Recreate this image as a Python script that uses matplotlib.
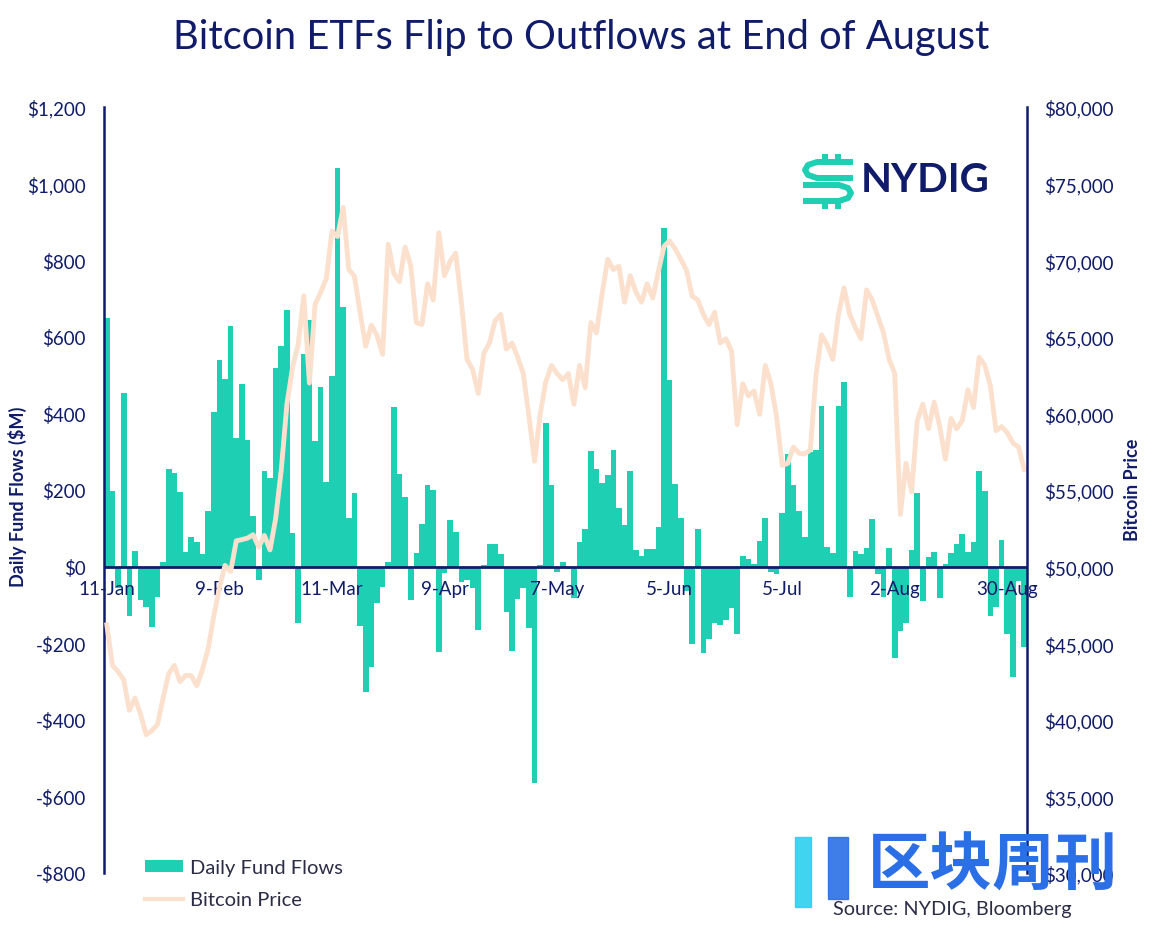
import matplotlib.pyplot as plt
from matplotlib.patches import Patch, Rectangle
from matplotlib.lines import Line2D
import numpy as np

# daily net flows, $M (one value per trading day, 11-Jan .. early Sep)
flows = [650, 198, -55, 453, -128, 40, -87, -105, -159, -79,
         12, 254, 245, 195, 37, 76, 65, 33, 145, 403,
         539, 491, 629, 337, 476, 330, 133, -36, 250, 232,
         518, 575, 671, 87, -146, 556, 645, 327, 468, 220,
         498, 1040, 679, 128, 193, -154, -327, -263, -95, -52,
         13, 416, 242, 183, -87, 36, 111, 212, 200, -224,
         -18, 121, 91, -41, -36, -57, -165, 3, 60, 60,
         32, -119, -220, -84, -56, -161, -565, 5, 375, 214,
         -15, 11, -7, -82, 64, 99, 302, 256, 219, 240,
         304, 152, 108, 250, 43, 28, 46, 46, 103, 884,
         486, 216, 128, -65, -202, 99, -226, -189, -148, -152,
         -139, -108, -176, 28, 21, 8, 67, 128, -13, -20,
         140, 293, 214, 145, 78, 300, 304, 420, 51, 35,
         420, 483, -79, 40, 32, 49, 124, -20, -80, 49,
         -238, -167, -148, 44, 192, -90, 25, 37, -82, 6,
         35, 60, 86, 37, 64, 250, 198, -128, -105, 70,
         -175, -288, -37, -211]

# bitcoin price, USD
price = [46200, 43550, 43150, 42620, 40620, 41420, 40360, 39030, 39290, 39690,
         41420, 43020, 43550, 42490, 42890, 42890, 42220, 43290, 44620, 46750,
         48610, 50080, 49680, 51680, 51760, 51860, 52080, 51280, 52030, 51090,
         53140, 56340, 60600, 63000, 64500, 67680, 61980, 67100, 67900, 68800,
         71900, 71550, 73450, 69400, 68950, 66600, 64380, 65760, 65100, 63860,
         71050, 69130, 68600, 70860, 69660, 65930, 65800, 68460, 67400, 71790,
         68990, 69930, 70460, 67260, 63530, 62870, 61300, 63930, 64600, 66060,
         66460, 64200, 64600, 63670, 62600, 59800, 56870, 59940, 62070, 63130,
         62600, 62200, 62600, 60600, 63130, 61670, 65930, 65260, 67800, 70060,
         69390, 69610, 67260, 68990, 67930, 67260, 68460, 67530, 69260, 70900,
         71260, 70730, 70060, 69340, 67660, 67400, 66460, 65800, 66600, 64600,
         64870, 64070, 59270, 61930, 61140, 61460, 59940, 63130, 61930, 59800,
         56610, 56740, 57800, 57400, 57350, 57620, 62470, 65130, 64470, 63530,
         66460, 68200, 66460, 65610, 64870, 68060, 67400, 66330, 65260, 63530,
         62600, 53410, 56740, 54880, 59540, 60600, 59000, 60740, 59140, 57010,
         59670, 59000, 59540, 61540, 60390, 63670, 63130, 61800, 58870, 59140,
         58740, 58070, 57800, 56340]

date_labels = ['11-Jan', '9-Feb', '11-Mar', '9-Apr', '7-May', '5-Jun', '5-Jul', '2-Aug', '30-Aug']
label_every = 20
flow_ticks = [-800, -600, -400, -200, 0, 200, 400, 600, 800, 1000, 1200]
price_ticks = [30000, 35000, 40000, 45000, 50000, 55000, 60000, 65000, 70000, 75000, 80000]

NAVY = '#101c6a'
TEAL = '#1ecfb4'
PEACH = '#fbe1cd'
W, H = 1160, 929

plt.rcParams['font.family'] = ['Lato', 'DejaVu Sans']


def fx(px):
    return px / W


def fy(py):
    return 1 - py / H


fig = plt.figure(figsize=(11.6, 9.29), dpi=100)
ax = fig.add_axes([fx(104), fy(874), fx(1027) - fx(104), fy(108) - fy(874)])
ax2 = ax.twinx()

x = np.arange(len(flows))
ax.bar(x, flows, width=1.0, color=TEAL, linewidth=0)
ax.axhline(0, color=NAVY, lw=2)
ax.set_xlim(-0.5, len(flows) - 0.5)
ax.set_ylim(-800, 1200)
ax.set_xticks([])
ax.set_yticks(flow_ticks, [('-$' if v < 0 else '$') + f'{abs(v):,}' for v in flow_ticks])
ax.tick_params(axis='y', length=0, pad=13, labelsize=13.5, labelcolor=NAVY)

ax2.plot(x, price, color=PEACH, lw=3.5, solid_joinstyle='round')
ax2.set_ylim(30000, 80000)
ax2.set_yticks(price_ticks, [f'${v:,}' for v in price_ticks])
ax2.tick_params(axis='y', length=0, pad=12, labelsize=13.5, labelcolor=NAVY)

for a in (ax, ax2):
    a.spines['top'].set_visible(False)
    a.spines['bottom'].set_visible(False)
ax.spines['right'].set_visible(False)
ax2.spines['left'].set_visible(False)
ax.spines['left'].set_color(NAVY)
ax.spines['left'].set_linewidth(1.8)
ax2.spines['right'].set_color(NAVY)
ax2.spines['right'].set_linewidth(1.8)

# date labels sit just under the zero line
for k, lab in enumerate(date_labels):
    ax.annotate(lab, (k * label_every, 0), xytext=(0, -16), textcoords='offset points',
                ha='center', va='center', fontsize=13.5, color=NAVY)

fig.text(fx(581), fy(38), 'Bitcoin ETFs Flip to Outflows at End of August', ha='center', va='center',
         fontsize=28.7, color=NAVY)
fig.text(fx(17), fy(497), 'Daily Fund Flows ($M)', rotation=90, ha='center', va='center',
         fontsize=13, fontweight='bold', color=NAVY)
fig.text(fx(1133), fy(490), 'Bitcoin Price', rotation=90, ha='center', va='center',
         fontsize=13, fontweight='bold', color=NAVY)

handles = [Patch(facecolor=TEAL, edgecolor='none'), Line2D([], [], color=PEACH, lw=3)]
fig.legend(handles, ['Daily Fund Flows', 'Bitcoin Price'], loc='upper left',
           bbox_to_anchor=(fx(135), fy(850)), frameon=False, fontsize=14.5, labelcolor='#2a2d45',
           handlelength=1.9, handleheight=0.55, handletextpad=0.35, labelspacing=0.75, borderpad=0)

fig.text(fx(833), fy(910), 'Source: NYDIG, Bloomberg', ha='left', va='center', fontsize=14.3, color='#2a2d45')

# NYDIG logo
fig.text(fx(861), fy(181), 'NYDIG', ha='left', va='center', fontsize=29, fontweight='bold', color=NAVY)
logo_paths = [
    [(853, 163), (817, 163), (808, 166), (805, 171), (808, 176), (817, 179), (853, 179)],
    [(803, 186), (839, 186), (848, 189), (851, 194), (848, 199), (839, 202), (803, 202)],
    [(825, 155), (825, 163)], [(838, 155), (838, 163)],
    [(825, 202), (825, 210)], [(838, 202), (838, 210)],
]
for pts in logo_paths:
    xs = [fx(p[0]) for p in pts]
    ys = [fy(p[1]) for p in pts]
    fig.add_artist(Line2D(xs, ys, transform=fig.transFigure, color=TEAL, lw=4.3,
                          solid_capstyle='butt', solid_joinstyle='round'))

# watermark
fig.add_artist(Rectangle((fx(795), fy(908)), fx(16), fy(838) - fy(908), transform=fig.transFigure,
                         color='#2bd0f0', alpha=0.9))
fig.add_artist(Rectangle((fx(828), fy(900)), fx(20), fy(838) - fy(900), transform=fig.transFigure,
                         color='#2a6fe6', alpha=0.9))
fig.text(fx(868), fy(866), '区块周刊', ha='left', va='center', fontsize=45, fontweight='bold',
         color='#2a6fe6', family=['Noto Sans CJK SC', 'DejaVu Sans'])

fig.savefig('out.png', dpi=100)
